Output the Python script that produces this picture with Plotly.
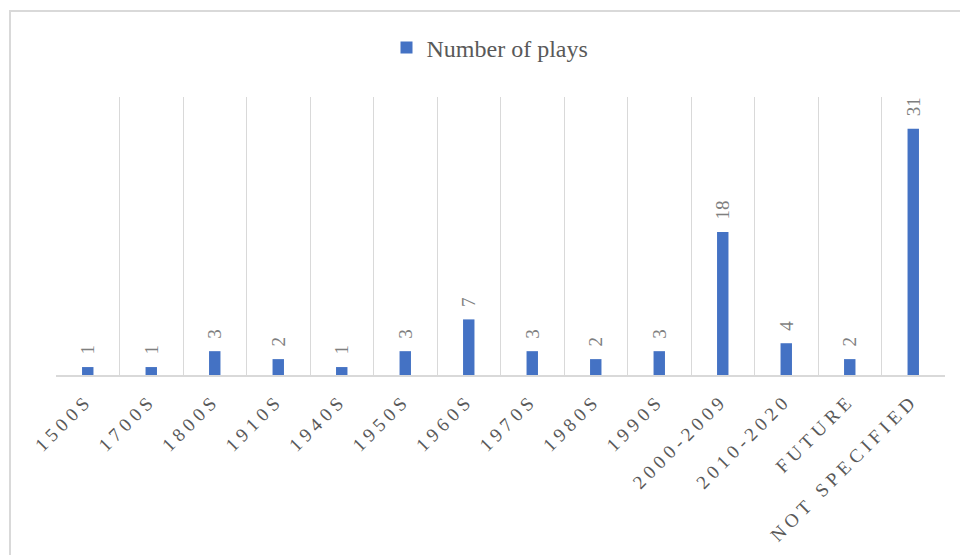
import plotly.graph_objects as go

categories = ["1500S", "1700S", "1800S", "1910S", "1940S", "1950S", "1960S",
              "1970S", "1980S", "1990S", "2000-2009", "2010-2020", "FUTURE",
              "NOT SPECIFIED"]
plays = [1, 1, 3, 2, 1, 3, 7, 3, 2, 3, 18, 4, 2, 31]
series_name = "Number of plays"

SP = "\u2005"
def spaced(s):
    return SP.join(list(s))

tick_text = [spaced(c) for c in categories]
label_text = ["\u00a0\u00a0" + str(v) for v in plays]

W, H = 960, 555
ML, MR, MT, MB = 56, 15, 97, 180
PW, PH = W - ML - MR, H - MT - MB
FONT = "Liberation Serif, Times New Roman, serif"

def px_x(x):
    return (x - ML) / PW

def px_y(y):
    return (H - MB - y) / PH

fig = go.Figure()
fig.add_trace(go.Bar(
    x=categories, y=plays, name=series_name,
    marker=dict(color="#4472C4", line=dict(width=0)),
    width=0.18,
    text=label_text, textposition="outside",
    textangle=-90, cliponaxis=False, constraintext="none",
    textfont=dict(family=FONT, size=19, color="#7f7f7f"),
    showlegend=True,
))

fig.update_layout(
    width=W, height=H,
    margin=dict(l=ML, r=MR, t=MT, b=MB, autoexpand=False),
    paper_bgcolor="white", plot_bgcolor="white",
    font=dict(family=FONT, color="#595959"),
    showlegend=True,
    legend=dict(orientation="h", x=px_x(490), y=px_y(48), xanchor="center",
                yanchor="middle",
                font=dict(family=FONT, size=24, color="#595959"),
                itemwidth=30),
    xaxis=dict(
        type="category", tickson="boundaries", showgrid=True,
        gridcolor="#d9d9d9", gridwidth=1, showline=True, linecolor="#d9d9d9",
        linewidth=2, ticks="", tickangle=-45, automargin=False,
        tickvals=categories, ticktext=tick_text,
        tickfont=dict(family=FONT, size=19, color="#595959"),
        ticklabelstandoff=8, ticklabelshift=-4,
    ),
    yaxis=dict(range=[0, 35], visible=False, showgrid=False, zeroline=False,
               automargin=False),
    shapes=[dict(type="rect", xref="paper", yref="paper",
                 x0=px_x(10), x1=px_x(1000), y0=px_y(600), y1=px_y(11),
                 line=dict(color="#d9d9d9", width=2), layer="below")],
)

fig.write_html("out.html")
